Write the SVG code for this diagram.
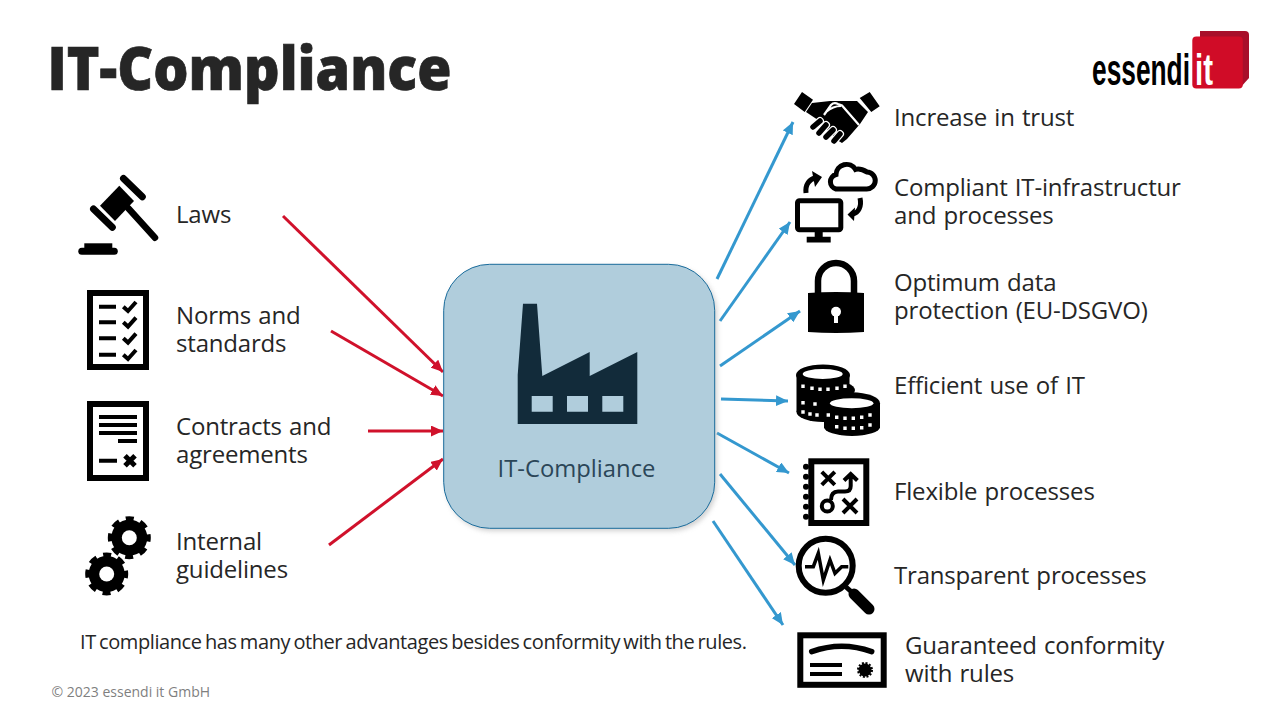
<svg xmlns="http://www.w3.org/2000/svg" width="1280" height="720" viewBox="0 0 1280 720">
<style>
text{font-family:"Open Sans","Noto Sans","DejaVu Sans",sans-serif;fill:#262626}
.l{font-size:24px;letter-spacing:-.18px;word-spacing:1.2px}
.k{fill:#000;stroke:none}
.o{fill:none;stroke:#000;stroke-width:6}
.t{fill:none;stroke:#000;stroke-width:4}
.r{fill:none;stroke:#d0112b;stroke-width:3;marker-end:url(#ar)}
.b{fill:none;stroke:#3498cf;stroke-width:3;marker-end:url(#ab)}
</style>
<defs>
<marker id="ar" markerUnits="userSpaceOnUse" markerWidth="13" markerHeight="11" refX="12" refY="5.5" orient="auto"><path d="M0 0L12 5.500L0 11z" fill="#d0112b"/></marker>
<marker id="ab" markerUnits="userSpaceOnUse" markerWidth="13" markerHeight="11" refX="12" refY="5.500" orient="auto"><path d="M0 0L12 5.500L0 11z" fill="#3498cf"/></marker>
<filter id="sh" x="-5%" y="-5%" width="110%" height="110%"><feGaussianBlur stdDeviation="2.5"/></filter>
<g id="gear"><circle r="18" class="k"/><circle r="19" fill="none" stroke="#000" stroke-width="5" stroke-dasharray="8 6.9" stroke-dashoffset="4"/><circle r="7.5" fill="#fff"/></g>
</defs>
<rect width="1280" height="720" fill="#fff"/>
<text id="title" x="47.500" y="90" font-size="60" font-weight="800" stroke="#262626" stroke-width=".7" textLength="404" lengthAdjust="spacingAndGlyphs">IT-Compliance</text>
<g id="logo">
<path d="M1200 31H1245Q1249 31 1249 35V78L1240 88H1200z" fill="#a80f2a"/>
<rect x="1192.300" y="36.500" width="50.500" height="52" rx="4" fill="#d00c27"/>
<text x="1092" y="85" font-size="44" font-weight="700" style="font-family:'Liberation Sans',sans-serif;fill:#000" textLength="98" lengthAdjust="spacingAndGlyphs">essendi</text>
<text x="1195" y="85" font-size="44" font-weight="700" style="font-family:'Liberation Sans',sans-serif;fill:#fff" textLength="18" lengthAdjust="spacingAndGlyphs">it</text>
</g>
<g id="connectors">
<path class="r" d="M283 216L443 372"/>
<path class="r" d="M331 331L443 396"/>
<path class="r" d="M368 431L443 431"/>
<path class="r" d="M329 545L443 459"/>
<path class="b" d="M717 279L793 122"/>
<path class="b" d="M720 321L790 222"/>
<path class="b" d="M720 366L800 311"/>
<path class="b" d="M721 399L788 401"/>
<path class="b" d="M717 433L789 473"/>
<path class="b" d="M720 474L795 565"/>
<path class="b" d="M713 521L783 625"/>
</g>
<g id="center">
<rect x="446" y="267" width="271" height="264" rx="46" fill="#aaa" opacity=".55" filter="url(#sh)"/>
<rect x="443.700" y="264.300" width="271" height="264" rx="46" fill="#b0cddc" stroke="#1a6c9c" stroke-width="1"/>
<path d="M517.700 424V375L523 303.700H537L542.300 376L589.700 352V376L637.300 352V424z" fill="#122b3a"/>
<path d="M531.700 396h21v15.700h-21zM567 396h21v15.700h-21zM602.300 396h21v15.700h-21z" fill="#b0cddc"/>
<text x="576.500" y="477" font-size="23.800" text-anchor="middle" style="fill:#2b4658">IT-Compliance</text>
</g>
<g id="laws">
<path class="k" d="M100 205.700L119.300 185.700L134 201L115 221z"/>
<path d="M128.300 208.300L155 237.700" stroke="#000" stroke-width="6.500" stroke-linecap="round"/>
<path d="M123.500 178.500L142.300 196.700M93.500 209L112.300 227.300" stroke="#000" stroke-width="7" stroke-linecap="round"/>
<rect x="78.300" y="247.700" width="39.500" height="7" rx="3.500" class="k"/><rect x="84.300" y="243.300" width="28" height="6" class="k"/>
<text class="l" x="176" y="223">Laws</text>
</g>
<g id="norms">
<rect x="90" y="293" width="56" height="74" class="o"/>
<path d="M99 306.700h17M99 322.300h17M99 338.300h17M99 354.700h17M123.300 306.700l4.700 4.300l8-9M123.300 322.300l4.700 4.300l8-9M123.300 338.300l4.700 4.300l8-9M123.300 354.700l4.700 4.300l8-9" class="t"/>
<text class="l"><tspan x="176" y="324">Norms and</tspan><tspan x="176" y="352">standards</tspan></text>
</g>
<g id="contracts">
<rect x="90" y="404" width="56" height="74" class="o"/>
<path d="M99 417h38M99 425h38M99 433h38M118 441h19M99 460.700h18" class="t"/>
<path d="M125 455.700l10 10M135 455.700l-10 10" fill="none" stroke="#000" stroke-width="5"/>
<text class="l"><tspan x="176" y="435">Contracts and</tspan><tspan x="176" y="463">agreements</tspan></text>
</g>
<g id="guidelines">
<use href="#gear" x="129.300" y="537.700"/><use href="#gear" x="106.700" y="574"/>
<text class="l"><tspan x="176" y="550">Internal</tspan><tspan x="176" y="578">guidelines</tspan></text>
</g>
<g id="trust">
<path class="k" d="M794 104L802 92L813 99.700L804.700 112zM859.700 98L869.700 92L879.700 106.300L871.300 112z"/>
<path class="k" d="M812 103L830 101H857L868 112L860 124L847 139L842 143L837 140L818 120L806 112z"/>
<path d="M824 115L831 105Q834 102 838 104L842 105.500L859 125M826 112Q833 106 841 106" fill="none" stroke="#fff" stroke-width="2.200"/>
<path d="M840 134L834 141M833 130L826 137M826 125L819 133M820 121L813 127" fill="none" stroke="#fff" stroke-width="8" stroke-linecap="round"/>
<path d="M840 134L834 141M833 130L826 137M826 125L819 133M820 121L813 127" fill="none" stroke="#000" stroke-width="5.500" stroke-linecap="round"/>
<text class="l" x="894" y="126">Increase in trust</text>
</g>
<g id="infrastructure">
<path d="M836 189H866.500A8.500 8.500 0 0 0 867 172Q860 168 855.500 169.500A10.500 10.500 0 0 0 836 174.500A7.500 7.500 0 0 0 836 189z" class="o" style="stroke-width:5"/>
<rect x="797.500" y="200.800" width="43.300" height="29" rx="2" class="o" style="stroke-width:5"/>
<path class="k" d="M814.700 232h8v5h-8zM806.700 236.700h24v5.700h-24z"/>
<path d="M806 193C805 184 810 179 815 178M860 198C862 207 858 213 853 214" fill="none" stroke="#000" stroke-width="5"/>
<path class="k" d="M822 177L812 171L815 187zM847.500 214.500L855 207.500L854 221z"/>
<text class="l"><tspan x="894" y="196">Compliant IT-infrastructur</tspan><tspan x="894" y="224">and processes</tspan></text>
</g>
<g id="protection">
<path d="M818 294V281a18 18 0 0 1 36 0V294" class="o" style="stroke-width:6.500"/>
<path class="k" d="M808 293Q836 291 864 293V332Q836 334 808 332z"/>
<circle cx="836" cy="311.700" r="5" fill="#fff"/><rect x="834" y="312" width="4" height="11" fill="#fff"/>
<text class="l"><tspan x="894" y="291">Optimum data</tspan><tspan x="894" y="319">protection (EU-DSGVO)</tspan></text>
</g>
<g id="efficiency">
<ellipse cx="823" cy="375" rx="27" ry="10.500" class="k"/>
<rect x="796.500" y="375" width="53" height="37" class="k"/>
<ellipse cx="828" cy="390" rx="27" ry="10" class="k"/>
<ellipse cx="823" cy="412" rx="26.500" ry="10" class="k"/>
<ellipse cx="852" cy="403.300" rx="28" ry="11" class="k"/>
<rect x="824" y="403" width="56" height="25" class="k"/>
<ellipse cx="852" cy="427" rx="28" ry="9" class="k"/>
<ellipse cx="822.700" cy="374" rx="20" ry="5" fill="#fff"/>
<ellipse cx="851.700" cy="403.300" rx="21.700" ry="5" fill="#fff"/>
<path fill="#fff" d="M801.300 384.500h3.400v3.400h-3.400zM810.300 386.600h3.400v3.400h-3.400zM818.300 387.600h3.400v3.400h-3.400zM826.300 387.600h3.400v3.400h-3.400zM835.300 386.600h3.400v3.400h-3.400zM843.300 384.500h3.400v3.400h-3.400zM801.300 401h3.400v3.400h-3.400zM813.300 402.300h3.400v3.400h-3.400zM801.300 410.300h3.400v3.400h-3.400zM808.300 412.300h3.400v3.400h-3.400zM815.300 413.300h3.400v3.400h-3.400zM826.600 413.300h3.400v3.400h-3.400zM835 415.600h3.400v3.400h-3.400zM843.300 416.600h3.400v3.400h-3.400zM851.600 416.600h3.400v3.400h-3.400zM860 415.600h3.400v3.400h-3.400zM868.300 413.300h3.400v3.400h-3.400zM835 425h3.400v3.400h-3.400zM843.300 426.600h3.400v3.400h-3.400zM851.600 426.600h3.400v3.400h-3.400zM860 426h3.400v3.400h-3.400zM868.300 423.300h3.400v3.400h-3.400z"/>
<text class="l" x="894" y="394">Efficient use of IT</text>
</g>
<g id="flexible">
<rect x="811.300" y="461.300" width="55" height="61.700" class="o"/>
<path class="k" d="M806 463.700a3 3 0 0 1 0 6a3 3 0 0 1 0-6zM806 473.700a3 3 0 0 1 0 6a3 3 0 0 1 0-6zM806 483.700a3 3 0 0 1 0 6a3 3 0 0 1 0-6zM806 493.700a3 3 0 0 1 0 6a3 3 0 0 1 0-6zM806 503.700a3 3 0 0 1 0 6a3 3 0 0 1 0-6zM806 513.700a3 3 0 0 1 0 6a3 3 0 0 1 0-6z"/>
<path d="M821.800 471.800l13 13M834.800 471.800l-13 13M843 499l14 14M857 499l-14 14M831 500C831 494 834 491.500 838 491.500H845Q850.700 491.500 850.700 486V474M844 480.500l6.700-6.500l6.700 6.500" class="t"/>
<circle cx="827.300" cy="506" r="5.500" class="t"/>
<text class="l" x="894" y="500">Flexible processes</text>
</g>
<g id="transparent">
<circle cx="825.700" cy="565.700" r="27" class="o"/>
<path d="M805 566.700H813.300L818.300 553.300L823.300 580L830 560L835 573.300L841.700 566.700H848.300" fill="none" stroke="#000" stroke-width="3.500"/>
<path d="M846 587L855 595" stroke="#000" stroke-width="5"/>
<path d="M854 594L869 609" stroke="#000" stroke-width="11" stroke-linecap="round"/>
<text class="l" x="894" y="584">Transparent processes</text>
</g>
<g id="conformity">
<rect x="800.300" y="635.300" width="83.400" height="49.500" class="o"/>
<path d="M811.700 651.700Q841.700 641 871.700 651.700" fill="none" stroke="#000" stroke-width="5.500" stroke-linecap="round"/>
<path d="M810 665h32M810 674h32" class="t"/>
<circle cx="865" cy="670" r="6.500" class="k"/><circle cx="865" cy="670" r="7" fill="none" stroke="#000" stroke-width="2" stroke-dasharray="2 1.700"/>
<text class="l"><tspan x="905" y="654">Guaranteed conformity</tspan><tspan x="905" y="682">with rules</tspan></text>
</g>
<text id="note" x="80" y="649" font-size="20" word-spacing="-1.500" textLength="667" lengthAdjust="spacing">IT compliance has many other advantages besides conformity with the rules.</text>
<text id="copyright" x="51.500" y="697" font-size="14" style="fill:#7f7f7f">© 2023 essendi it GmbH</text>
</svg>
